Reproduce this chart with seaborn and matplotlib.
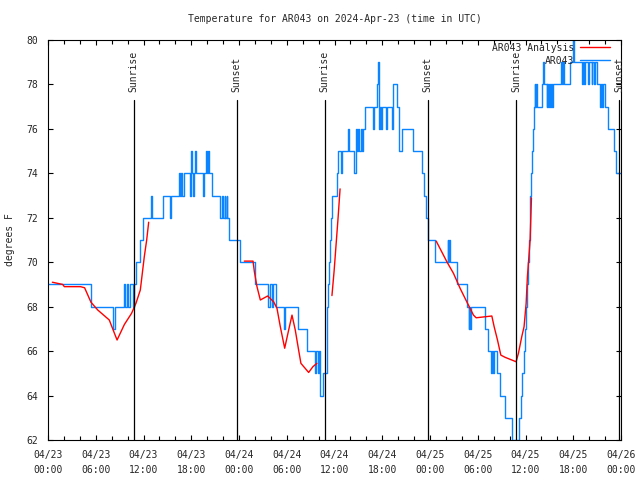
import pandas as pd
import matplotlib
matplotlib.use("Agg")
import matplotlib.pyplot as plt
import seaborn as sns
from matplotlib.lines import Line2D

# station AR043, hours since 2024-04-23 00:00 UTC
start = pd.Timestamp("2024-04-23 00:00")

# observed temps (change points, drawn as steps)
obs_hours = [0.0, 5.45, 8.2, 8.4, 9.6, 9.7, 9.95, 10.05, 10.35, 10.7, 10.85, 11.1, 11.5, 11.9,
             12.9, 13.1, 14.5, 15.3, 15.5, 16.5, 16.6, 16.75, 16.9, 17.05, 17.85, 17.95, 18.1,
             18.25, 18.35, 18.5, 18.65, 19.5, 19.6, 19.85, 19.95, 20.05, 20.2, 20.6, 21.55,
             21.9, 22.0, 22.2, 22.3, 22.45, 22.55, 22.8, 24.1, 25.95, 27.7, 27.85, 28.1, 28.25,
             28.6, 29.65, 29.8, 31.45, 32.6, 33.6, 33.7, 33.9, 34.0, 34.2, 34.55, 35.0, 35.05,
             35.12, 35.2, 35.3, 35.4, 35.5, 35.7, 36.3, 36.5, 36.85, 37.0, 37.7, 37.85, 38.4,
             38.65, 38.8, 38.95, 39.1, 39.3, 39.45, 39.6, 39.85, 40.85, 41.0, 41.3, 41.45,
             41.55, 41.7, 41.8, 41.95, 42.5, 42.65, 43.2, 43.35, 43.85, 44.1, 44.5, 45.85,
             46.95, 47.2, 47.45, 47.7, 48.65, 50.2, 50.3, 50.4, 50.5, 51.37, 52.62, 52.85,
             52.95, 53.05, 53.2, 54.93, 55.35, 55.7, 55.8, 55.95, 56.05, 56.4, 56.8, 57.45,
             58.25, 59.2, 59.45, 59.6, 59.75, 59.9, 60.0, 60.15, 60.3, 60.45, 60.55, 60.62,
             60.75, 60.85, 60.95, 61.1, 61.2, 61.25, 61.35, 61.45, 62.1, 62.2, 62.3, 62.65,
             62.75, 62.85, 62.95, 63.1, 63.2, 63.35, 63.45, 64.45, 64.55, 64.65, 64.8, 65.55,
             66.0, 66.15, 67.1, 67.2, 67.4, 67.5, 67.9, 68.0, 68.3, 68.4, 68.65, 68.75, 68.95,
             69.35, 69.45, 69.6, 69.7, 70.05, 70.4, 71.1, 71.4, 71.9]
obs_temps = [69, 68, 67, 68, 69, 68, 69, 68, 69, 68, 69, 70, 71, 72,
             73, 72, 73, 72, 73, 74, 73, 74, 73, 74, 73, 75, 74,
             73, 74, 75, 74, 73, 74, 75, 74, 75, 74, 73, 72,
             73, 72, 73, 72, 73, 72, 71, 70, 69, 68, 69, 68, 69,
             68, 67, 68, 67, 66, 65, 66, 65, 66, 64, 65, 66, 67,
             68, 69, 70, 71, 72, 73, 74, 75, 74, 75, 76, 75, 74,
             76, 75, 76, 75, 76, 75, 76, 77, 76, 77, 78, 79,
             76, 77, 76, 77, 76, 77, 76, 78, 77, 75, 76, 75,
             74, 73, 72, 71, 70, 71, 70, 71, 70, 69, 68, 67,
             68, 67, 68, 67, 66, 65, 66, 65, 66, 65, 64, 63,
             62, 63, 64, 65, 66, 67, 68, 69, 70, 71, 72, 73,
             74, 75, 76, 77, 78, 77, 78, 77, 78, 79, 78, 77,
             78, 77, 78, 77, 78, 77, 78, 79, 78, 79, 78, 79,
             80, 79, 78, 79, 78, 79, 78, 79, 78, 79, 78, 79, 78,
             77, 78, 77, 78, 77, 76, 75, 74, 74]

# analysis temps, broken into segments
ana_hours = [0.55, 1.85, 2.05, 4.1, 4.6, 5.4, 6.25, 7.7, 8.35, 8.68, 9.6, 10.5, 11.05, 11.6,
             11.9, 12.1, 12.4, 12.65,
             24.67, 25.76, 25.93, 26.26, 26.68, 27.6, 28.35, 28.77, 29.19, 29.74, 30.24,
             30.66, 31.07, 31.49, 31.78, 32.75, 33.29, 33.79,
             35.68, 35.95, 36.2, 36.45, 36.7,
             48.78, 50.12, 50.95, 51.79, 52.62, 53.46, 53.8, 55.77, 56.06, 56.48, 56.9,
             57.44, 58.28, 58.82, 59.11, 59.53, 59.82, 60.08, 60.24, 60.58, 60.75]
ana_temps = [69.1, 69.0, 68.9, 68.9, 68.85, 68.2, 67.85, 67.4, 66.8, 66.5, 67.2, 67.7, 68.15,
             68.75, 69.65, 70.25, 71.0, 71.8,
             70.05, 70.05, 69.58, 68.9, 68.3, 68.48, 68.22, 67.93, 67.1, 66.13, 66.95,
             67.62, 66.95, 66.05, 65.45, 65.04, 65.3, 65.45,
             68.5, 69.6, 70.8, 72.0, 73.3,
             70.95, 70.02, 69.5, 68.82, 68.22, 67.62, 67.5, 67.58, 67.1, 66.5, 65.82,
             65.72, 65.6, 65.52, 65.9, 66.65, 67.1, 68.15, 69.35, 71.0, 72.9]
ana_seg = [0] * 18 + [1] * 18 + [2] * 5 + [3] * 21

sun_hours = [10.78, 23.7, 34.76, 47.69, 58.86, 71.8]
sun_labels = ["Sunrise", "Sunset", "Sunrise", "Sunset", "Sunrise", "Sunset"]

BLUE = "#0a84ff"
RED = "#ff0000"

obs = pd.DataFrame({"time": start + pd.to_timedelta(obs_hours, unit="h"), "temp": obs_temps})
ana = pd.DataFrame({"time": start + pd.to_timedelta(ana_hours, unit="h"), "temp": ana_temps,
                    "seg": ana_seg})

sns.set_style("ticks")
plt.rcParams["font.family"] = ["DejaVu Sans Mono"]

fig = plt.figure(figsize=(6.4, 4.8), dpi=100)
ax = fig.add_axes([48 / 640, 40 / 480, 573 / 640, 400 / 480])

sns.lineplot(data=obs, x="time", y="temp", estimator=None, color=BLUE, lw=1.0,
             drawstyle="steps-post", ax=ax, legend=False)
sns.lineplot(data=ana, x="time", y="temp", units="seg", estimator=None, color=RED, lw=1.0,
             ax=ax, legend=False)

# sunrise / sunset markers
for h, lab in zip(sun_hours, sun_labels):
    t = start + pd.Timedelta(hours=h)
    ax.axvline(t, ymin=0, ymax=(77.3 - 62) / 18, color="black", lw=0.9)
    ax.text(t, 77.67, lab, rotation=90, ha="center", va="bottom", fontsize=7, clip_on=False)

end = start + pd.Timedelta(hours=72)
ax.set_xlim(start, end)
ax.set_ylim(62, 80)

major = pd.date_range(start, end, freq="6h").to_pydatetime()
minor = pd.date_range(start, end, freq="2h").to_pydatetime()
ax.set_xticks(major)
ax.set_xticklabels([t.strftime("%m/%d\n%H:%M") for t in major], linespacing=1.7)
ax.set_xticks(minor, minor=True)
ax.set_yticks(range(62, 81, 2))

ax.tick_params(which="both", direction="in", top=True, right=True, labelsize=7,
               color="black", width=0.8)
ax.tick_params(which="major", length=3.8)
ax.tick_params(which="minor", length=3.0)
ax.tick_params(axis="y", pad=7)
ax.tick_params(axis="x", pad=7)
for s in ax.spines.values():
    s.set_visible(True)
    s.set_color("black")
    s.set_linewidth(0.8)

ax.set_xlabel("")
ax.set_ylabel("degrees F", fontsize=7)
ax.yaxis.set_label_coords(-0.058, 0.5)
ax.set_title("Temperature for AR043 on 2024-Apr-23 (time in UTC)", fontsize=7, pad=13)

handles = [Line2D([], [], color=RED, lw=1.0), Line2D([], [], color=BLUE, lw=1.0)]
ax.legend(handles, ["AR043 Analysis", "AR043"], loc="upper right",
          bbox_to_anchor=(0.981, 0.993), frameon=False, markerfirst=False,
          handlelength=3.1, handletextpad=0.6, labelspacing=0.3, borderpad=0,
          borderaxespad=0, fontsize=7)

fig.savefig("out.png", dpi=100)
